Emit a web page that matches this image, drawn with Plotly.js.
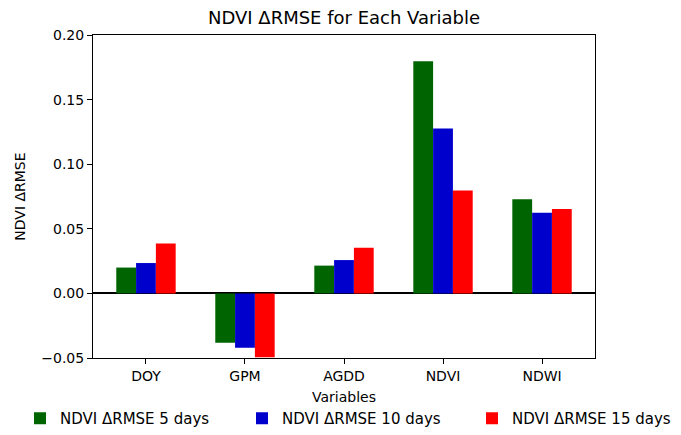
<!DOCTYPE html>
<html><head><meta charset="utf-8">
<script src="https://cdn.plot.ly/plotly-3.0.1.min.js"></script>
<style>body{margin:0;padding:0;}#c{width:681px;height:435px;}</style>
</head><body><div id="c"></div>
<script>
const categories = ["DOY", "GPM", "AGDD", "NDVI", "NDWI"];
const seriesNames = ["NDVI ΔRMSE 5 days", "NDVI ΔRMSE 10 days", "NDVI ΔRMSE 15 days"];
const rmse5 = [0.020, -0.0382, 0.0215, 0.1797, 0.0728];
const rmse10 = [0.0235, -0.0421, 0.0258, 0.1277, 0.0625];
const rmse15 = [0.0387, -0.0495, 0.0354, 0.0797, 0.0654];
const colors = ["#006400", "#0000CD", "#FF0000"];
const yTicks = [-0.05, 0.00, 0.05, 0.10, 0.15, 0.20];

const font = {family: "DejaVu Sans, sans-serif", size: 14, color: "#000"};
const legFont = {family: "DejaVu Sans, sans-serif", size: 15, color: "#000"};
const vals = [rmse5, rmse10, rmse15];
const legendIds = ["legend", "legend2", "legend3"];
const traces = vals.map((v, i) => ({
  type: "bar", x: categories, y: v, name: seriesNames[i], legend: legendIds[i],
  marker: {color: colors[i], line: {width: 0}}
}));
const legX = [20, 242, 472];
function leg(x) {
  return {orientation: "h", xref: "container", yref: "container", x: x / 681, xanchor: "left",
          y: 0, yanchor: "bottom", font: legFont, itemwidth: 30, bgcolor: "rgba(0,0,0,0)"};
}
const layout = {
  width: 681, height: 435,
  margin: {l: 93, r: 86, t: 35, b: 77, autoexpand: false},
  paper_bgcolor: "#fff", plot_bgcolor: "#fff",
  font: font,
  barmode: "group", bargap: 0.4, bargroupgap: 0,
  title: {text: "NDVI ΔRMSE for Each Variable", font: {family: font.family, size: 18, color: "#000"},
          x: 0.5, xref: "paper", xanchor: "center", y: 21, yref: "container", yanchor: "middle"},
  xaxis: {
    range: [-0.535, 4.535], showgrid: false, zeroline: false, automargin: false,
    showline: true, linecolor: "#000", linewidth: 1, mirror: true,
    ticks: "outside", ticklen: 5, tickcolor: "#000"
  },
  yaxis: {
    range: [-0.05, 0.20], tickvals: yTicks, tickformat: ".2f", automargin: false,
    showgrid: false, zeroline: true, zerolinecolor: "#000", zerolinewidth: 2,
    showline: true, linecolor: "#000", linewidth: 1, mirror: true,
    ticks: "outside", ticklen: 5, tickcolor: "#000"
  },
  annotations: [
    {text: "Variables", xref: "paper", yref: "paper", x: 0.5, y: -0.12, yanchor: "middle",
     xanchor: "center", showarrow: false, font: font},
    {text: "NDVI ΔRMSE", xref: "paper", yref: "paper", x: -0.147, y: 0.5, xanchor: "center",
     yanchor: "middle", textangle: -90, showarrow: false, font: font}
  ],
  showlegend: true,
  legend: leg(legX[0]), legend2: leg(legX[1]), legend3: leg(legX[2])
};
Plotly.newPlot("c", traces, layout, {displayModeBar: false, staticPlot: true});
</script></body></html>
